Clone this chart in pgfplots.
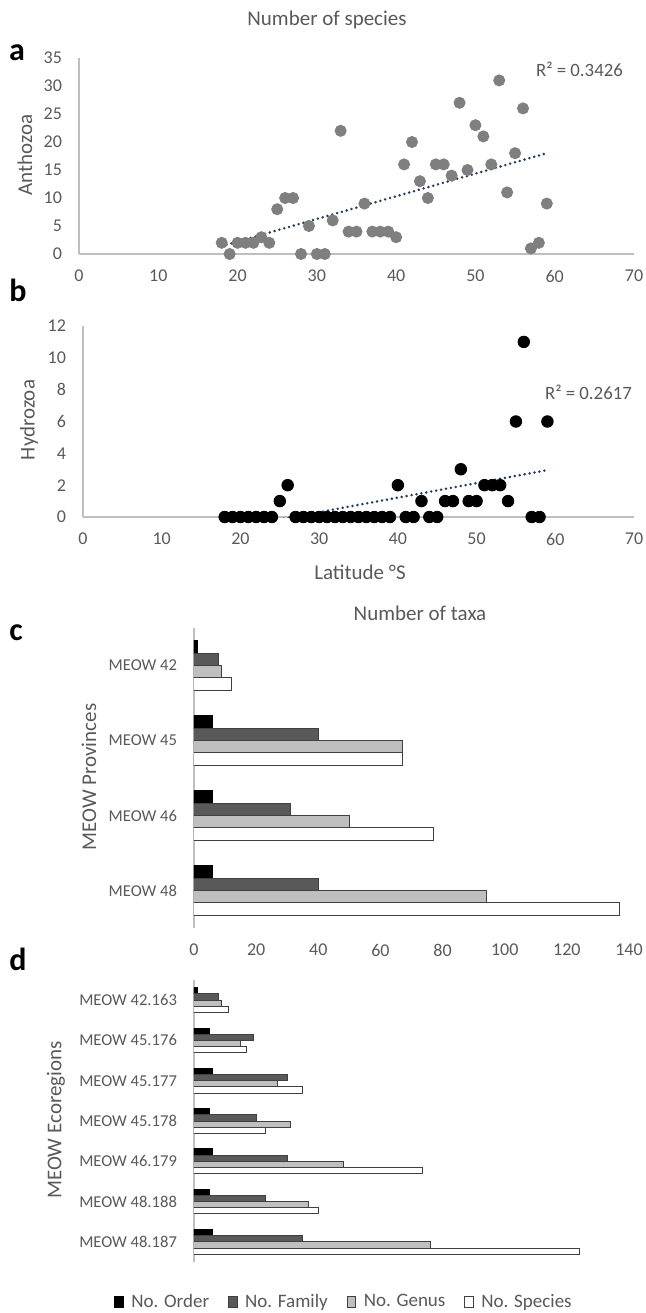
\documentclass[border=0pt]{standalone}
\usepackage{fontspec}
\setmainfont{Carlito}
\usepackage{pgfplots}
\pgfplotsset{compat=1.18}

\definecolor{txtgray}{HTML}{595959}
\definecolor{axgray}{HTML}{BFBFBF}
\definecolor{ptgray}{HTML}{7F7F7F}
\definecolor{trendblue}{HTML}{243B60}
\definecolor{famgray}{HTML}{595959}
\definecolor{gengray}{HTML}{BFBFBF}
\definecolor{baredge}{HTML}{404040}

\pgfplotsset{
  panel/.style={
    scale only axis,
    anchor=south west,
    axis lines*=left,
    axis line style={draw=axgray, line width=0.8pt},
    major tick length=0pt,
    tick label style={font=\fontsize{9}{10}\selectfont, text=txtgray},
    /pgf/number format/assume math mode=true,
    yticklabel style={xshift=-5pt},
    xticklabel style={yshift=-4.5pt},
  },
  trend/.style={trendblue, line width=1.4pt, line cap=round,
    dash pattern=on 0pt off 2.5pt, no marks},
  barpanel/.style={
    panel,
    xbar=0pt,
    x axis line style={draw=none},
    xmin=0, xmax=140,
    yticklabel style={font=\fontsize{8.3}{9.5}\selectfont},
    legend image code/.code={
      \draw[#1] (0.5pt,-2.6pt) rectangle (4.7pt,2.6pt);
      \path (0pt,0pt) (6.5pt,0pt);},
  },
  sOrder/.style={fill=black, draw=black, line width=0.5pt},
  sFamily/.style={fill=famgray, draw=baredge, line width=0.5pt},
  sGenus/.style={fill=gengray, draw=baredge, line width=0.5pt},
  sSpecies/.style={fill=white, draw=baredge, line width=0.5pt},
}

\begin{document}
\begin{tikzpicture}
\useasboundingbox (0pt,0pt) rectangle (323pt,-656.5pt);

% ---------- panel a: Anthozoa ----------
\begin{axis}[panel, at={(39.5pt,-127pt)}, width=277.5pt, height=98pt,
  xmin=0, xmax=70, ymin=0, ymax=35,
  xtick={0,10,...,70}, ytick={0,5,...,35}]
\addplot[only marks, mark=*, mark size=2.8pt, mark options={draw=ptgray, fill=ptgray}]
coordinates {
 (18,2) (19,0) (20,2) (21,2) (22,2) (23,3) (24,2) (25,8) (26,10) (27,10)
 (28,0) (29,5) (30,0) (31,0) (32,6) (33,22) (34,4) (35,4) (36,9) (37,4)
 (38,4) (39,4) (40,3) (41,16) (42,20) (43,13) (44,10) (45,16) (46,16) (47,14)
 (48,27) (49,15) (50,23) (51,21) (52,16) (53,31) (54,11) (55,18) (56,26) (57,1)
 (58,2) (59,9)
};
\addplot[trend] coordinates {(18,1.4) (59,18.0)};
\end{axis}

% ---------- panel b: Hydrozoa ----------
\begin{axis}[panel, at={(41.5pt,-258.5pt)}, width=275.5pt, height=95.5pt,
  xmin=0, xmax=70, ymin=0, ymax=12,
  xtick={0,10,...,70}, ytick={0,2,...,12}]
\addplot[only marks, mark=*, mark size=2.9pt, mark options={draw=black, fill=black}]
coordinates {
 (18,0) (19,0) (20,0) (21,0) (22,0) (23,0) (24,0) (25,1) (26,2) (27,0)
 (28,0) (29,0) (30,0) (31,0) (32,0) (33,0) (34,0) (35,0) (36,0) (37,0)
 (38,0) (39,0) (40,2) (41,0) (42,0) (43,1) (44,0) (45,0) (46,1) (47,1)
 (48,3) (49,1) (50,1) (51,2) (52,2) (53,2) (54,1) (55,6) (56,11) (57,0)
 (58,0) (59,6)
};
\addplot[trend] coordinates {(18,-0.79) (59,2.95)};
\end{axis}

% ---------- panel c: MEOW provinces ----------
\begin{axis}[barpanel, at={(97pt,-464pt)}, width=217.5pt, height=150pt,
  bar width=6.15pt,
  xtick={0,20,...,140},
  ymin=-0.5, ymax=3.5, ytick={0,1,2,3},
  yticklabels={MEOW 48,MEOW 46,MEOW 45,MEOW 42}]
\addplot[sOrder, bar shift=9.225pt] coordinates {(6,0) (6,1) (6,2) (1,3)};
\addplot[sFamily, bar shift=3.075pt] coordinates {(40,0) (31,1) (40,2) (8,3)};
\addplot[sGenus, bar shift=-3.075pt] coordinates {(94,0) (50,1) (67,2) (9,3)};
\addplot[sSpecies, bar shift=-9.225pt] coordinates {(137,0) (77,1) (67,2) (12,3)};
\end{axis}

% ---------- panel d: MEOW ecoregions ----------
\begin{axis}[barpanel, at={(97pt,-631pt)}, width=217.5pt, height=141pt,
  bar width=3.1pt,
  xtick=\empty,
  ymin=-0.5, ymax=6.5, ytick={0,1,...,6},
  yticklabels={MEOW 48.187,MEOW 48.188,MEOW 46.179,MEOW 45.178,MEOW 45.177,MEOW 45.176,MEOW 42.163},
  legend columns=4,
  legend style={at={(0.346,-0.142)}, anchor=center, draw=none,
    font=\fontsize{9.5}{11}\selectfont, text=txtgray,
    /tikz/every even column/.append style={column sep=7pt}}]
\addplot[sOrder, bar shift=4.65pt] coordinates {(6,0) (5,1) (6,2) (5,3) (6,4) (5,5) (1,6)};
\addplot[sFamily, bar shift=1.55pt] coordinates {(35,0) (23,1) (30,2) (20,3) (30,4) (19,5) (8,6)};
\addplot[sGenus, bar shift=-1.55pt] coordinates {(76,0) (37,1) (48,2) (31,3) (27,4) (15,5) (9,6)};
\addplot[sSpecies, bar shift=-4.65pt] coordinates {(124,0) (40,1) (73.5,2) (23,3) (35,4) (17,5) (11,6)};
\legend{No. Order, No. Family, No. Genus, No. Species}
\end{axis}

% ---------- titles, labels, panel letters ----------
\begin{scope}[every node/.style={text=txtgray}]
\node[font=\fontsize{10.5}{12}\selectfont] at (163.5pt,-10pt) {Number of species};
\node[font=\fontsize{10.5}{12}\selectfont] at (180pt,-286pt) {Latitude °S};
\node[font=\fontsize{10.5}{12}\selectfont] at (210pt,-306.5pt) {Number of taxa};
\node[font=\fontsize{10.5}{12}\selectfont, rotate=90] at (12.5pt,-77.5pt) {Anthozoa};
\node[font=\fontsize{10.5}{12}\selectfont, rotate=90] at (14.5pt,-210pt) {Hydrozoa};
\node[font=\fontsize{10.5}{12}\selectfont, rotate=90] at (44.5pt,-388.5pt) {MEOW Provinces};
\node[font=\fontsize{10.5}{12}\selectfont, rotate=90] at (28pt,-560pt) {MEOW Ecoregions};
\node[font=\fontsize{9.4}{11}\selectfont, anchor=west] at (264.5pt,-34.5pt) {R² = 0.3426};
\node[font=\fontsize{9.4}{11}\selectfont, anchor=west] at (269pt,-196pt) {R² = 0.2617};
\end{scope}
\begin{scope}[every node/.style={font=\bfseries\fontsize{16}{18}\selectfont, text=black}]
\node at (8.5pt,-26.5pt) {a};
\node at (9pt,-145pt) {b};
\node at (8pt,-316.5pt) {c};
\node at (9pt,-479.5pt) {d};
\end{scope}
\end{tikzpicture}
\end{document}
